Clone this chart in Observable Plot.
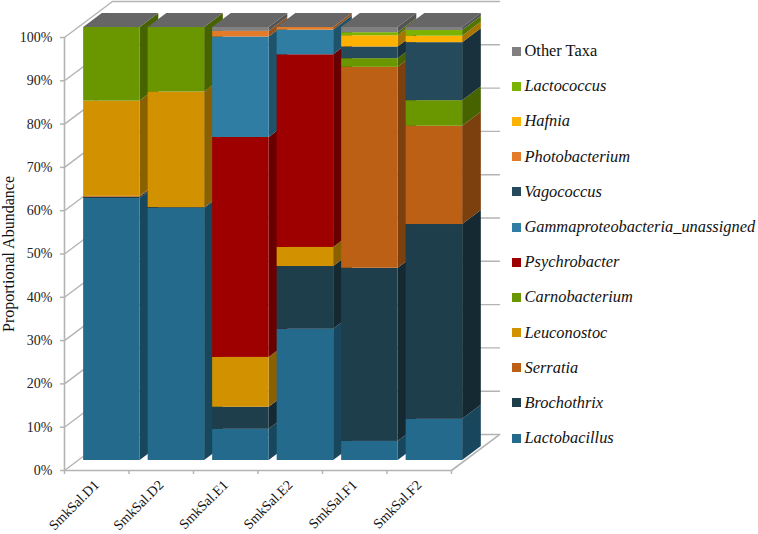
<!DOCTYPE html>
<html>
<head>
<meta charset="utf-8">
<script src="https://cdn.jsdelivr.net/npm/d3@7"></script>
<script src="https://cdn.jsdelivr.net/npm/@observablehq/plot@0.6"></script>
<style>
  html, body { margin: 0; padding: 0; background: #fff; }
  #wrap { position: relative; width: 758px; height: 534px; overflow: hidden; }
  #legend { position: absolute; left: 512px; top: 33.5px; font-family: "Liberation Serif", serif; font-size: 16.4px; color: #111; }
  #legend div { display: flex; align-items: center; height: 35.2px; white-space: nowrap; }
  #legend i.sw { display: block; width: 9px; height: 9px; margin-right: 3.5px; flex: none; }
</style>
</head>
<body>
<div id="wrap"><div id="chart"></div><div id="legend"></div></div>
<script>
const samples = ["SmkSal.D1", "SmkSal.D2", "SmkSal.E1", "SmkSal.E2", "SmkSal.F1", "SmkSal.F2"];
const taxa = ["Lactobacillus", "Brochothrix", "Serratia", "Leuconostoc", "Carnobacterium", "Psychrobacter",
  "Gammaproteobacteria_unassigned", "Vagococcus", "Photobacterium", "Hafnia", "Lactococcus", "Other Taxa"];
const colors = ["#246a8d", "#1f3e4b", "#bc6015", "#d29200", "#6a9600", "#9e0000",
  "#2f7da3", "#244a5c", "#e47b28", "#fdb100", "#7cb200", "#808080"];
const D1 = [60.5, 0.3, 0.2, 22.0, 17.0, 0, 0, 0, 0, 0, 0, 0];
const D2 = [58.2, 0.2, 0, 26.7, 14.9, 0, 0, 0, 0, 0, 0, 0];
const E1 = [7.2, 5.1, 0, 11.5, 0, 50.8, 23.2, 0, 1.3, 0, 0, 0.9];
const E2 = [30.3, 14.5, 0, 4.4, 0, 44.5, 5.7, 0, 0.6, 0, 0, 0];
const F1 = [4.4, 40.0, 46.4, 0, 2.0, 0, 0, 2.7, 0, 2.6, 0.7, 1.2];
const F2 = [9.5, 45.0, 22.7, 0, 5.9, 0, 0, 13.4, 0, 1.5, 1.3, 0.7];
const table = [D1, D2, E1, E2, F1, F2];
const yTicks = [0, 10, 20, 30, 40, 50, 60, 70, 80, 90, 100];
const legendOrder = [...taxa].reverse();
const yTitle = "Proportional Abundance";

// Oblique depth: d = 0 is the front of the chart box, d = 1 its back wall.
const depthX = 0.744, depthY = 8.31;
const barD0 = 0.278, barD1 = 0.667, barLeft = 0.09, barWidth = 0.876;
const px = (x, d) => x + depthX * d;
const py = (y, d) => y + depthY * d;
const shade = c => { const r = d3.rgb(c); return d3.rgb(r.r * 0.66, r.g * 0.66, r.b * 0.66).formatHex(); };
const gridColor = "#b4b4b4";

const fronts = [], sides = [], tops = [];
table.forEach((vals, i) => {
  const l = i + barLeft, r = l + barWidth;
  let lo = 0;
  vals.forEach((v, k) => {
    if (v <= 0) return;
    const hi = lo + v, key = i + "-" + k;
    fronts.push({taxon: taxa[k], x1: px(l, barD0), x2: px(r, barD0), y1: py(lo, barD0), y2: py(hi, barD0)});
    for (const d of [barD0, barD1]) {
      sides.push({key, fill: shade(colors[k]), x: px(r, d), y1: py(lo, d), y2: py(hi, d)});
    }
    lo = hi;
  });
  const t0 = py(lo, barD0), t1 = py(lo, barD1);
  tops.push({key: i, x: px(l, barD0), y1: t0, y2: t0});
  tops.push({key: i, x: px(l, barD1), y1: t0, y2: t1});
  tops.push({key: i, x: px(r, barD0), y1: t0, y2: t1});
  tops.push({key: i, x: px(r, barD1), y1: t1, y2: t1});
});

const grid = yTicks.flatMap(v => [
  {v, x: px(0, 0), y: py(v, 0)},
  {v, x: px(0, 1), y: py(v, 1)},
  {v, x: px(6, 1), y: py(v, 1)}
]);
const floorEdge = [
  {x: px(6, 1), y: py(0, 1)},
  {x: px(6, 0), y: py(0, 0)},
  {x: px(0, 0), y: py(0, 0)},
  {x: px(0, 0), y: py(100, 0)}
];

const chart = Plot.plot({
  width: 758, height: 534,
  marginLeft: 64, marginRight: 307, marginTop: 37, marginBottom: 64,
  style: {fontFamily: "'Liberation Serif', serif", fontSize: "14px", background: "#fff", color: "#222", overflow: "visible"},
  x: {domain: [0, 6], axis: null},
  y: {domain: [0, 100], axis: null},
  color: {domain: taxa, range: colors},
  marks: [
    Plot.line(grid, {x: "x", y: "y", z: "v", stroke: gridColor, strokeWidth: 1.4, curve: "linear"}),
    Plot.line(floorEdge, {x: "x", y: "y", stroke: gridColor, strokeWidth: 1.6, curve: "linear"}),
    Plot.axisY({ticks: yTicks, tickFormat: d => d + "%", tickSize: 4, tickPadding: 8, stroke: gridColor, strokeWidth: 1.5, fill: "#222", fontSize: 14, label: null}),
    Plot.text([yTitle], {text: d => d, frameAnchor: "left", textAnchor: "middle", rotate: -90, dx: -56, fontSize: 16, fill: "#111"}),
    Plot.axisX({ticks: [0, 1, 2, 3, 4, 5, 6], tickFormat: () => "", tickSize: 4, stroke: gridColor, strokeWidth: 1.5, label: null}),
    Plot.axisX({ticks: samples.map((s, i) => i + 0.5), tickFormat: d => samples[d - 0.5], tickRotate: -45, tickSize: 0, tickPadding: 12,
      fill: "#111", fontSize: 14, label: null}),
    Plot.areaY(sides, {x: "x", y1: "y1", y2: "y2", z: "key", fill: {value: "fill", scale: null}, curve: "linear"}),
    Plot.areaY(tops, {x: "x", y1: "y1", y2: "y2", z: "key", fill: "#666666", curve: "linear"}),
    Plot.rect(fronts, {x1: "x1", x2: "x2", y1: "y1", y2: "y2", fill: "taxon", inset: 0})
  ]
});
document.getElementById("chart").appendChild(chart);

const legend = d3.select("#legend");
legendOrder.forEach(name => {
  const row = legend.append("div");
  row.append("i").attr("class", "sw").style("background", colors[taxa.indexOf(name)]);
  row.append("span").style("font-style", name === "Other Taxa" ? "normal" : "italic").text(name);
});
</script>
</body>
</html>
